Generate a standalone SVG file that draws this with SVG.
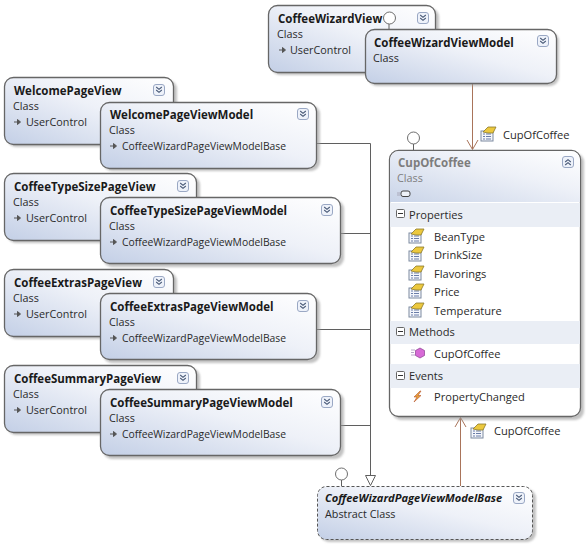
<svg xmlns="http://www.w3.org/2000/svg" xmlns:xlink="http://www.w3.org/1999/xlink" width="588" height="548" viewBox="0 0 588 548">
<style>
text{font-family:"Open Sans","Noto Sans","Liberation Sans",sans-serif;font-size:10.8px;fill:#2a2a2a}
.t{font-weight:700;font-size:11.5px;fill:#1a1a1a}
.g{fill:#7d7d7d}
.m{font-size:11.1px}
.b{font-size:10.35px}
.box{fill:url(#grad);stroke:#666;stroke-width:1.3}
.sh{fill:#9a9a9a;opacity:.6;filter:url(#soft)}
.ln{fill:none;stroke:#5f5f5f;stroke-width:1}
.as{fill:none;stroke:#a9745a;stroke-width:1}
.lol{fill:#fff;stroke:#6e6e6e;stroke-width:1}
.band{fill:#eaeef5}
</style>
<defs>
<filter id="soft" x="-5%" y="-5%" width="110%" height="110%"><feGaussianBlur stdDeviation="0.8"/></filter>
<linearGradient id="grad" x1="0" y1="1" x2="1" y2="0">
<stop offset="0" stop-color="#c3cfe6"/><stop offset=".55" stop-color="#eef1f8"/><stop offset="1" stop-color="#fff"/>
</linearGradient>
<linearGradient id="hgrad" x1="0" y1="1" x2="1" y2="0">
<stop offset="0" stop-color="#c9d4e8"/><stop offset=".6" stop-color="#eef1f8"/><stop offset="1" stop-color="#fff"/>
</linearGradient>
<g id="down"><rect x=".5" y=".5" width="11" height="11" rx="2.500" fill="#eef2fa" stroke="#9aa8c4"/><path d="M3.200 3l2.800 2.400L8.800 3M3.200 6l2.800 2.400L8.800 6" fill="none" stroke="#4a5a78" stroke-width="1.100"/></g>
<g id="up"><rect x=".5" y=".5" width="11" height="11" rx="2.500" fill="#eef2fa" stroke="#9aa8c4"/><path d="M3.200 6l2.800-2.400L8.800 6M3.200 9l2.800-2.400L8.800 9" fill="none" stroke="#4a5a78" stroke-width="1.100"/></g>
<g id="inh"><path d="M0 4h4M3.500 1.500L6.500 4L3.500 6.500z" fill="#555" stroke="#555" stroke-width="1"/></g>
<g id="minus"><rect x=".5" y=".5" width="8" height="8" rx="1" fill="#fff" stroke="#666"/><path d="M2 4.500h5" stroke="#333"/></g>
<g id="prop"><rect x="1" y="5" width="12" height="10" fill="#f4f6fb" stroke="#7c8aa0"/><path d="M3 8h2M6 8h5M3 10.500h2M6 10.500h5M3 13h2M6 13h5" stroke="#6a7da8"/><path d="M3 6L8 1h8l-3 6H8z" fill="#ecc83e" stroke="#8c7a2c" stroke-width=".8"/></g>
</defs>
<rect width="588" height="548" fill="#fff"/>

<g id="connectors">
<path class="ln" d="M317 143.500H370.500V475M341 233.500H370.500M317 329.500H370.500M341 425.500H370.500"/>
<path class="ln" d="M365.500 475.500H375.500L370.500 485.500Z" style="fill:#fff"/>
<path class="as" d="M472.500 83V149M467 140L472.500 149.500L478 140"/>
<path class="as" d="M460.500 486V418M455 427L460.500 417.500L466 427"/>
</g>

<g id="CoffeeWizardView">
<rect class="sh" x="271" y="8" width="168" height="67" rx="9"/>
<rect class="box" x="268.500" y="5.500" width="167" height="67" rx="9"/>
<text class="t" x="278" y="23">CoffeeWizardView</text><text x="277" y="38">Class</text><use xlink:href="#inh" x="279" y="46"/><text x="290" y="54">UserControl</text>
<use xlink:href="#down" x="417" y="12"/>
<path class="ln" d="M389 24V29"/><circle class="lol" cx="389.500" cy="18" r="6"/>
</g>
<g id="CoffeeWizardViewModel">
<rect class="sh" x="368" y="32" width="191" height="54" rx="9"/>
<rect class="box" x="365.500" y="29.500" width="191" height="54" rx="9"/>
<text class="t" x="374" y="47">CoffeeWizardViewModel</text><text x="373" y="62">Class</text>
<use xlink:href="#down" x="537" y="35"/>
</g>

<g id="WelcomePageView">
<rect class="sh" x="7" y="80" width="170" height="67" rx="9"/>
<rect class="box" x="4.500" y="77.500" width="169" height="67" rx="9"/>
<text class="t" x="14" y="95">WelcomePageView</text><text x="13" y="110">Class</text><use xlink:href="#inh" x="14" y="118"/><text x="26" y="126">UserControl</text>
<use xlink:href="#down" x="153" y="84"/>
</g>
<g id="WelcomePageViewModel">
<rect class="sh" x="103" y="105" width="217" height="66" rx="9"/>
<rect class="box" x="100.500" y="102.500" width="216" height="66" rx="9"/>
<text class="t" x="110" y="119">WelcomePageViewModel</text><text x="109" y="134">Class</text><use xlink:href="#inh" x="110" y="142"/><text class="b" x="122" y="150">CoffeeWizardPageViewModelBase</text>
<use xlink:href="#down" x="297" y="108"/>
</g>

<g id="CoffeeTypeSizePageView">
<rect class="sh" x="7" y="176" width="193" height="67" rx="9"/>
<rect class="box" x="4.500" y="173.500" width="192" height="67" rx="9"/>
<text class="t" x="14" y="191">CoffeeTypeSizePageView</text><text x="13" y="206">Class</text><use xlink:href="#inh" x="14" y="214"/><text x="26" y="222">UserControl</text>
<use xlink:href="#down" x="177" y="180"/>
</g>
<g id="CoffeeTypeSizePageViewModel">
<rect class="sh" x="103" y="200" width="241" height="67" rx="9"/>
<rect class="box" x="100.500" y="197.500" width="240" height="66" rx="9"/>
<text class="t" x="110" y="215">CoffeeTypeSizePageViewModel</text><text x="109" y="230">Class</text><use xlink:href="#inh" x="110" y="238"/><text class="b" x="122" y="246">CoffeeWizardPageViewModelBase</text>
<use xlink:href="#down" x="321" y="204"/>
</g>

<g id="CoffeeExtrasPageView">
<rect class="sh" x="7" y="272" width="170" height="67" rx="9"/>
<rect class="box" x="4.500" y="269.500" width="169" height="67" rx="9"/>
<text class="t" x="14" y="287">CoffeeExtrasPageView</text><text x="13" y="302">Class</text><use xlink:href="#inh" x="14" y="310"/><text x="26" y="318">UserControl</text>
<use xlink:href="#down" x="153" y="276"/>
</g>
<g id="CoffeeExtrasPageViewModel">
<rect class="sh" x="103" y="296" width="217" height="67" rx="9"/>
<rect class="box" x="100.500" y="293.500" width="216" height="66" rx="9"/>
<text class="t" x="110" y="311">CoffeeExtrasPageViewModel</text><text x="109" y="326">Class</text><use xlink:href="#inh" x="110" y="334"/><text class="b" x="122" y="342">CoffeeWizardPageViewModelBase</text>
<use xlink:href="#down" x="297" y="300"/>
</g>

<g id="CoffeeSummaryPageView">
<rect class="sh" x="7" y="368" width="193" height="67" rx="9"/>
<rect class="box" x="4.500" y="365.500" width="192" height="67" rx="9"/>
<text class="t" x="14" y="383">CoffeeSummaryPageView</text><text x="13" y="398">Class</text><use xlink:href="#inh" x="14" y="406"/><text x="26" y="414">UserControl</text>
<use xlink:href="#down" x="177" y="372"/>
</g>
<g id="CoffeeSummaryPageViewModel">
<rect class="sh" x="103" y="392" width="241" height="67" rx="9"/>
<rect class="box" x="100.500" y="389.500" width="240" height="66" rx="9"/>
<text class="t" x="110" y="407">CoffeeSummaryPageViewModel</text><text x="109" y="422">Class</text><use xlink:href="#inh" x="110" y="430"/><text class="b" x="122" y="438">CoffeeWizardPageViewModelBase</text>
<use xlink:href="#down" x="321" y="396"/>
</g>

<g id="CupOfCoffee">
<rect class="sh" x="392" y="153" width="192" height="267" rx="9"/>
<rect x="389.500" y="150.500" width="191" height="266" rx="9" fill="#fff" stroke="#666" stroke-width="1.300"/>
<path d="M390 202V159.500A9 9 0 0 1 399 151H571A9 9 0 0 1 580 159.500V202Z" fill="url(#hgrad)"/>
<rect class="band" x="390" y="203" width="190" height="24"/>
<rect class="band" x="390" y="321" width="190" height="23"/>
<rect class="band" x="390" y="364" width="190" height="24"/>
<text class="t g" x="398" y="167">CupOfCoffee</text><text class="g" x="397" y="182">Class</text>
<path d="M397 193h3M397 195h3" stroke="#aab"/><rect x="401" y="191" width="9" height="5.500" rx="2" fill="#eef2f8" stroke="#444"/>
<use xlink:href="#up" x="562" y="156"/>
<path class="ln" d="M413.500 144V150"/><circle class="lol" cx="413.500" cy="138" r="6"/>
<use xlink:href="#minus" x="396" y="209"/><text class="m" x="409" y="219">Properties</text>
<use xlink:href="#prop" x="408" y="228"/><text class="m" x="434" y="241">BeanType</text>
<use xlink:href="#prop" x="408" y="246"/><text class="m" x="434" y="259">DrinkSize</text>
<use xlink:href="#prop" x="408" y="265"/><text class="m" x="434" y="278">Flavorings</text>
<use xlink:href="#prop" x="408" y="283"/><text class="m" x="434" y="296">Price</text>
<use xlink:href="#prop" x="408" y="302"/><text class="m" x="434" y="315">Temperature</text>
<use xlink:href="#minus" x="396" y="327"/><text class="m" x="409" y="336">Methods</text>
<path d="M411 350h4M411 352.500h3M411 355h4" stroke="#b9a8c8"/><path d="M420 348l4.500 2.500v5L420 358l-4.500-2.500v-5z" fill="#d76ad6" stroke="#8a3f8f" stroke-width=".7"/><text class="m" x="434" y="358">CupOfCoffee</text>
<use xlink:href="#minus" x="396" y="371"/><text class="m" x="409" y="380">Events</text>
<path d="M420 391l-6 6h3l-3 5 7-6.500h-3l3-4.500z" fill="#e8a13c" stroke="#b5562e" stroke-width=".6"/><text class="m" x="434" y="401">PropertyChanged</text>
</g>

<g id="CoffeeWizardPageViewModelBase">
<rect class="sh" x="320" y="489" width="216" height="53" rx="9"/>
<rect x="317.500" y="486.500" width="215" height="53" rx="9" fill="url(#grad)" stroke="#555" stroke-width="1" stroke-dasharray="3 2"/>
<text class="t" x="325" y="502" font-style="italic" style="font-size:11.1px">CoffeeWizardPageViewModelBase</text><text x="325" y="518">Abstract Class</text>
<use xlink:href="#down" x="513" y="492"/>
<path class="ln" d="M341.500 480V486"/><circle class="lol" cx="341.500" cy="474" r="6"/>
</g>

<g id="label-top"><use xlink:href="#prop" x="480" y="126"/><text class="m" x="503" y="139">CupOfCoffee</text></g>
<g id="label-bottom"><use xlink:href="#prop" x="470" y="423"/><text class="m" x="494" y="435">CupOfCoffee</text></g>
</svg>
